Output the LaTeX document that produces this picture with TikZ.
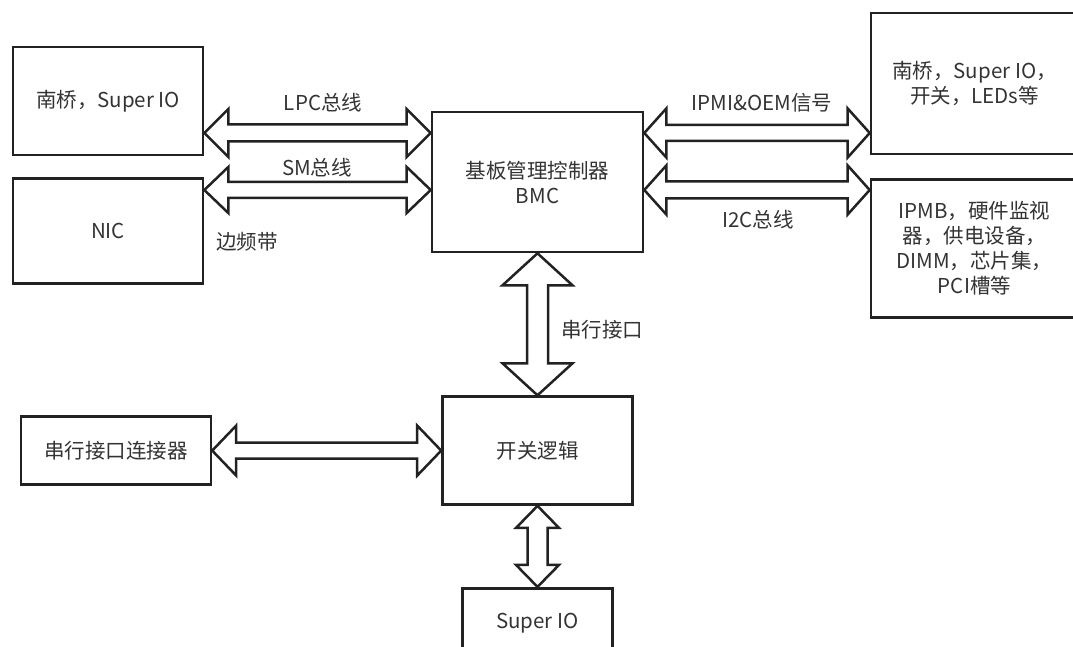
\documentclass[tikz,border=0pt]{standalone}
\usepackage{fontspec}
\setmainfont{Noto Sans CJK SC}
\usetikzlibrary{calc,positioning}
\definecolor{linec}{HTML}{222222}
\definecolor{textc}{HTML}{333333}
% hollow double arrow: from, to, head half width, shaft half width, head length
\newcommand{\dblarrow}[5]{%
  \draw[barrow] (#1) -- ($(#1)!#5!(#2)!#3!90:(#2)$) -- ($(#1)!#5!(#2)!#4!90:(#2)$)
    -- ($(#2)!#5!(#1)!#4!-90:(#1)$) -- ($(#2)!#5!(#1)!#3!-90:(#1)$) -- (#2)
    -- ($(#2)!#5!(#1)!#3!90:(#1)$) -- ($(#2)!#5!(#1)!#4!90:(#1)$)
    -- ($(#1)!#5!(#2)!#4!-90:(#2)$) -- ($(#1)!#5!(#2)!#3!-90:(#2)$) -- cycle;}

\begin{document}
\begin{tikzpicture}[x=1pt,y=-1pt, box/.style={draw=linec,line width=2.6pt,align=center,font=\fontsize{20.5}{25}\selectfont,text=textc,minimum width=190pt,minimum height=108pt,inner sep=0pt}, lbl/.style={font=\fontsize{20.5}{25}\selectfont,text=textc,inner sep=0pt}, barrow/.style={draw=linec,line width=2.5pt,fill=white,line join=miter}]
\useasboundingbox (0,0) rectangle (1073,647);
\clip (0,0) rectangle (1073,647);
\node[box,minimum width=211pt,minimum height=140pt] (bmc) at (537.5,182) {基板管理控制器\\BMC};
\node[box] (sb) at (108,101) {南桥，Super IO};
\node[box,below=21pt of sb,minimum height=105pt] (nic) {NIC};
\node[box,minimum width=207pt,minimum height=141pt] (rt) at (974.5,83.5) {南桥，Super IO，\\开关，LEDs等};
\node[box,below=23pt of rt,minimum width=207pt,minimum height=138pt] (rb) {IPMB，硬件监视\\器，供电设备，\\DIMM，芯片集，\\PCI槽等};
\node[box,below=142pt of bmc] (sw) {开关逻辑};
\node[box,left=229pt of sw,minimum height=68pt] (conn) {串行接口连接器};
\node[box,below=81pt of sw,minimum width=150pt,minimum height=70pt] (sio) {Super IO};
\coordinate (yA) at (0,133); \coordinate (yB) at (0,190);
\dblarrow{sb.east |- yA}{bmc.west |- yA}{24pt}{8.5pt}{24pt}
\dblarrow{nic.east |- yB}{bmc.west |- yB}{23pt}{8pt}{24pt}
\dblarrow{bmc.east |- yA}{rt.west |- yA}{24.5pt}{8pt}{22pt}
\dblarrow{bmc.east |- yB}{rb.west |- yB}{24.5pt}{8.5pt}{22pt}
\dblarrow{bmc.south}{sw.north}{35pt}{10.5pt}{32pt}
\dblarrow{conn.east}{sw.west}{25pt}{8pt}{24pt}
\dblarrow{sw.south}{sio.north}{21.5pt}{10pt}{22pt}
\node[lbl] (lpc) at (323,103) {LPC总线};
\node[lbl] (sm) at (317,168) {SM总线};
\node[lbl] (side) at (247,242) {边频带};
\node[lbl] (ipmi) at (762,103) {IPMI\&OEM信号};
\node[lbl] (i2c) at (758,220) {I2C总线};
\node[lbl] (ser) at (602,330) {串行接口};
\end{tikzpicture}
\end{document}
